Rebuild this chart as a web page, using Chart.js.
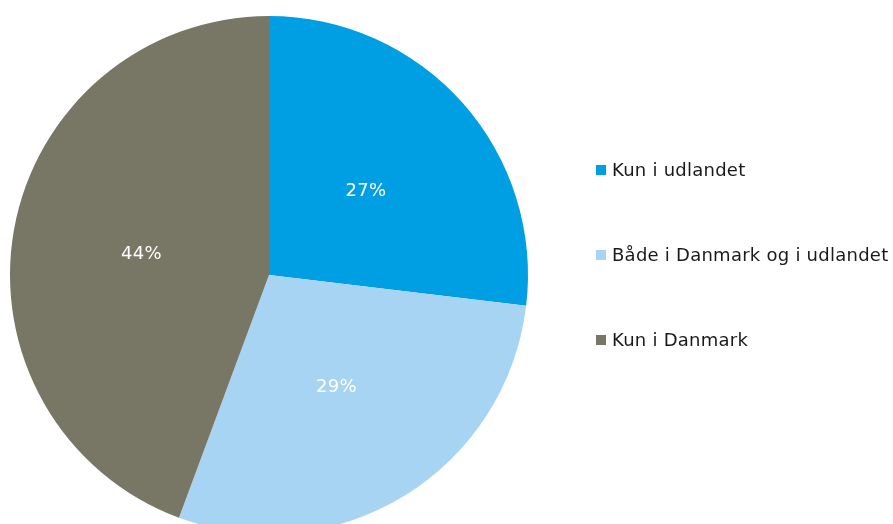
<!DOCTYPE html>
<html>
<head>
<meta charset="utf-8">
<script src="https://cdn.jsdelivr.net/npm/chart.js@4"></script>
<style>
  html, body { margin: 0; padding: 0; background: #fff; overflow: hidden; }
  .chart { position: relative; width: 893px; height: 550px; }
</style>
</head>
<body>
<div class="chart"><canvas id="pie"></canvas></div>
<script>
const categories = ['Kun i udlandet', 'Både i Danmark og i udlandet', 'Kun i Danmark'];
const shares = [26.9, 28.75, 44.35];
const sliceColors = ['#009FE3', '#A8D4F4', '#787664'];

const FONT = 'Verdana, "DejaVu Sans", sans-serif';

// percent labels in the middle of each slice
const sliceLabels = {
  id: 'sliceLabels',
  afterDatasetsDraw(chart) {
    const { ctx } = chart;
    const meta = chart.getDatasetMeta(0);
    ctx.save();
    ctx.font = '18px ' + FONT;
    ctx.letterSpacing = '0.3px';
    ctx.fillStyle = '#ffffff';
    ctx.textAlign = 'center';
    ctx.textBaseline = 'middle';
    meta.data.forEach((arc, i) => {
      const p = arc.getCenterPoint();
      ctx.fillText(Math.round(shares[i]) + '%', p.x, p.y + 2);
    });
    ctx.restore();
  },
};

// legend on the right, widely spaced
const sideLegend = {
  id: 'sideLegend',
  afterDraw(chart) {
    const { ctx } = chart;
    const x = 596;
    const top = 170;
    const step = 85;
    ctx.save();
    ctx.font = '18px ' + FONT;
    ctx.letterSpacing = '0.25px';
    ctx.textBaseline = 'middle';
    ctx.textAlign = 'left';
    categories.forEach((name, i) => {
      const y = top + i * step;
      ctx.fillStyle = sliceColors[i];
      ctx.fillRect(x, y - 5, 10, 10);
      ctx.fillStyle = '#1a1a1a';
      ctx.fillText(name, x + 16, y + 1);
    });
    ctx.restore();
  },
};

new Chart(document.getElementById('pie'), {
  type: 'pie',
  data: {
    labels: categories,
    datasets: [
      {
        data: shares,
        backgroundColor: sliceColors,
        borderWidth: 0,
      },
    ],
  },
  options: {
    responsive: true,
    maintainAspectRatio: false,
    animation: false,
    layout: { padding: { left: 10, top: 16, right: 365, bottom: 16 } },
    plugins: {
      legend: { display: false },
      tooltip: { enabled: false },
    },
  },
  plugins: [sliceLabels, sideLegend],
});
</script>
</body>
</html>
